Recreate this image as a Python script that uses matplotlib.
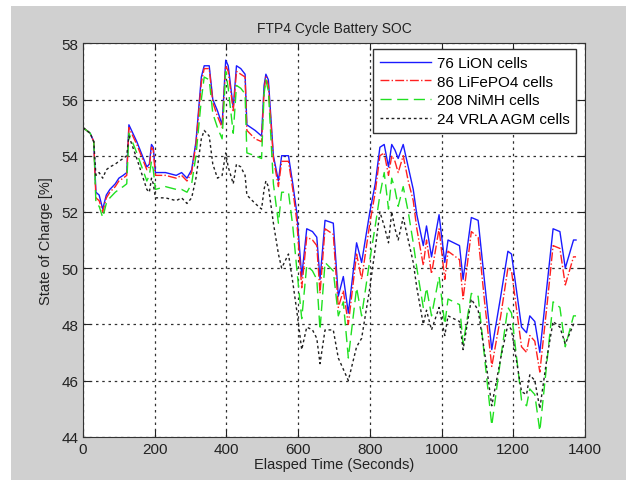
import numpy as np
import matplotlib.pyplot as plt
from matplotlib.patches import Rectangle

plt.rcParams['font.family'] = ['Liberation Sans', 'DejaVu Sans']
plt.rcParams['font.size'] = 10

# sample times (s) shared by all four battery packs
t = [0, 20, 30, 36, 45, 55, 65, 75, 90, 100, 112, 122, 128, 150, 178, 185, 191, 196, 202, 230,
     260, 275, 290, 303, 315, 330, 338, 352, 362, 375, 388, 398, 405, 419, 428, 440, 452, 457, 480, 498,
     505, 510, 517, 531, 545, 554, 573, 585, 596, 610, 624, 640, 652, 661, 675, 698, 712, 726, 740, 763,
     777, 800, 815, 828, 840, 852, 861, 870, 879, 893, 907, 921, 931, 949, 958, 972, 993, 1009, 1018, 1050,
     1060, 1083, 1102, 1120, 1140, 1165, 1185, 1195, 1223, 1237, 1246, 1260, 1274, 1295, 1311, 1330, 1345, 1368, 1375]

lion = [55.0, 54.8, 54.5, 52.7, 52.6, 52.1, 52.6, 52.8, 53.0, 53.2, 53.3, 53.4, 55.1, 54.5, 53.6, 53.7, 54.4, 54.3, 53.4, 53.4,
        53.3, 53.4, 53.2, 53.5, 54.5, 56.8, 57.2, 57.2, 56.0, 55.6, 55.1, 57.4, 57.2, 55.7, 57.2, 57.1, 56.9, 55.1, 54.9, 54.7,
        56.5, 56.9, 56.7, 54.0, 53.1, 54.0, 54.0, 53.0, 52.0, 49.7, 51.4, 51.3, 51.1, 49.6, 51.7, 51.6, 49.0, 49.7, 48.4, 50.9,
        50.2, 52.0, 53.0, 54.3, 54.4, 53.6, 54.4, 54.2, 53.9, 54.4, 53.6, 52.8, 51.9, 50.8, 51.5, 50.4, 51.9, 50.2, 51.0, 50.8,
        49.6, 51.8, 51.7, 49.5, 47.1, 49.0, 50.6, 50.5, 47.9, 47.7, 48.3, 48.1, 47.0, 49.5, 51.4, 51.3, 50.0, 51.0, 51.0]

lifepo4 = [55.0, 54.8, 54.5, 52.5, 52.4, 52.0, 52.5, 52.7, 52.9, 53.1, 53.2, 53.3, 55.0, 54.4, 53.5, 53.6, 54.3, 54.2, 53.3, 53.3,
           53.2, 53.3, 53.1, 53.4, 54.4, 56.6, 57.1, 57.1, 55.9, 55.4, 55.0, 57.2, 57.0, 55.6, 57.0, 56.9, 56.8, 54.9, 54.6, 54.5,
           56.3, 56.8, 56.5, 53.9, 52.9, 53.8, 53.8, 52.8, 51.7, 49.3, 51.1, 51.0, 50.8, 49.1, 51.4, 51.2, 48.6, 49.2, 48.0, 50.5,
           49.6, 51.6, 52.7, 54.0, 54.1, 53.3, 54.0, 53.8, 53.4, 54.0, 53.1, 52.4, 51.4, 50.1, 51.0, 49.8, 51.4, 49.6, 50.6, 50.3,
           48.9, 51.3, 51.1, 48.8, 46.5, 48.3, 50.0, 49.9, 47.2, 47.0, 47.6, 47.4, 46.3, 48.8, 50.8, 50.7, 49.4, 50.4, 50.4]

nimh = [55.0, 54.8, 54.5, 52.3, 52.2, 51.8, 52.3, 52.5, 52.7, 52.8, 52.9, 53.0, 54.8, 54.1, 53.1, 53.3, 53.8, 53.5, 52.8, 52.9,
        52.8, 52.8, 52.7, 53.0, 54.0, 56.0, 56.8, 56.7, 55.5, 55.0, 54.6, 57.0, 56.4, 54.8, 56.5, 56.4, 56.2, 54.1, 54.0, 53.9,
        56.2, 56.7, 56.3, 53.0, 51.6, 52.7, 52.7, 51.5, 50.0, 48.2, 50.1, 49.9, 49.6, 47.8, 50.2, 49.9, 48.3, 48.8, 46.8, 49.3,
        48.3, 50.3, 51.5, 52.6, 53.4, 52.1, 53.2, 52.8, 52.2, 52.9, 52.0, 50.9, 50.0, 48.6, 49.3, 48.3, 49.7, 48.0, 48.9, 48.7,
        47.3, 49.1, 49.0, 46.8, 44.4, 46.8, 48.6, 48.4, 45.3, 45.1, 45.7, 45.5, 44.2, 46.8, 48.8, 48.6, 47.2, 48.3, 48.3]

vrla = [55.0, 54.8, 54.5, 53.3, 53.4, 53.2, 53.5, 53.6, 53.7, 53.8, 53.9, 54.0, 54.7, 53.9, 52.8, 52.7, 53.2, 53.0, 52.5, 52.5,
        52.4, 52.5, 52.3, 52.5, 53.2, 54.6, 54.9, 54.7, 53.7, 53.2, 53.3, 54.1, 53.6, 53.0, 53.7, 53.6, 53.3, 52.6, 52.3, 52.1,
        52.8, 53.1, 52.9, 51.6, 50.5, 50.0, 50.5, 49.5, 48.5, 47.1, 47.9, 47.8, 47.5, 46.6, 47.8, 47.8, 46.8, 46.4, 46.0, 47.2,
        47.5, 49.3, 50.7, 52.0, 51.5, 50.9, 52.0, 51.4, 51.0, 51.8, 51.0, 50.2, 49.3, 48.0, 48.5, 47.8, 48.6, 47.6, 48.3, 48.1,
        47.1, 48.9, 48.5, 47.0, 45.1, 46.8, 48.0, 47.8, 45.6, 45.5, 46.2, 46.0, 45.0, 46.9, 48.1, 47.9, 47.3, 48.0, 48.0]

labels = ['76 LiON cells', '86 LiFePO4 cells', '208 NiMH cells', '24 VRLA AGM cells']

fig = plt.figure(figsize=(6.26, 4.81), dpi=100)
fig.patch.set_facecolor('white')
# grey window area, white strip on the left and top
fig.patches.append(Rectangle((11 / 626, 0), 1 - 11 / 626, 1 - 7 / 481, transform=fig.transFigure,
                             facecolor='#d0d0d0', edgecolor='none', zorder=-10))

ax = fig.add_axes([83 / 626, 1 - 437.7 / 481, 502 / 626, 393.4 / 481])
ax.plot(t, lion, color='#1a1aff', lw=1.0, ls='-', label=labels[0])
ax.plot(t, lifepo4, color='#ff2020', lw=1.0, ls='-.', label=labels[1])
ax.plot(t, nimh, color='#20e020', lw=1.0, ls=(0, (8, 4)), label=labels[2])
ax.plot(t, vrla, color='#202020', lw=1.0, ls=(0, (2, 2)), label=labels[3])

ax.set_xlim(0, 1400)
ax.set_ylim(44, 58)
ax.set_xticks(np.arange(0, 1401, 200))
ax.set_yticks(np.arange(44, 59, 2))
ax.grid(True, color='#303030', ls=(0, (2, 3)), lw=0.9)
ax.tick_params(direction='in', top=True, right=True, length=5, labelsize=11, colors='#222222')
for s in ax.spines.values():
    s.set_color('#333333')

ax.set_title('FTP4 Cycle Battery SOC', fontsize=10, color='#222222', pad=8)
ax.set_xlabel('Elasped Time (Seconds)', fontsize=10.5, color='#222222', labelpad=1)
ax.set_ylabel('State of Charge [%]', fontsize=10.5, color='#222222', labelpad=6)

leg = ax.legend(loc='upper right', bbox_to_anchor=(0.998, 1.004), fancybox=False, framealpha=1,
                edgecolor='#333333', fontsize=11, handlelength=3.3, borderpad=0.45, labelspacing=0.3,
                handletextpad=0.4)
leg.get_frame().set_linewidth(1.0)

fig.savefig('out.png', dpi=100)
